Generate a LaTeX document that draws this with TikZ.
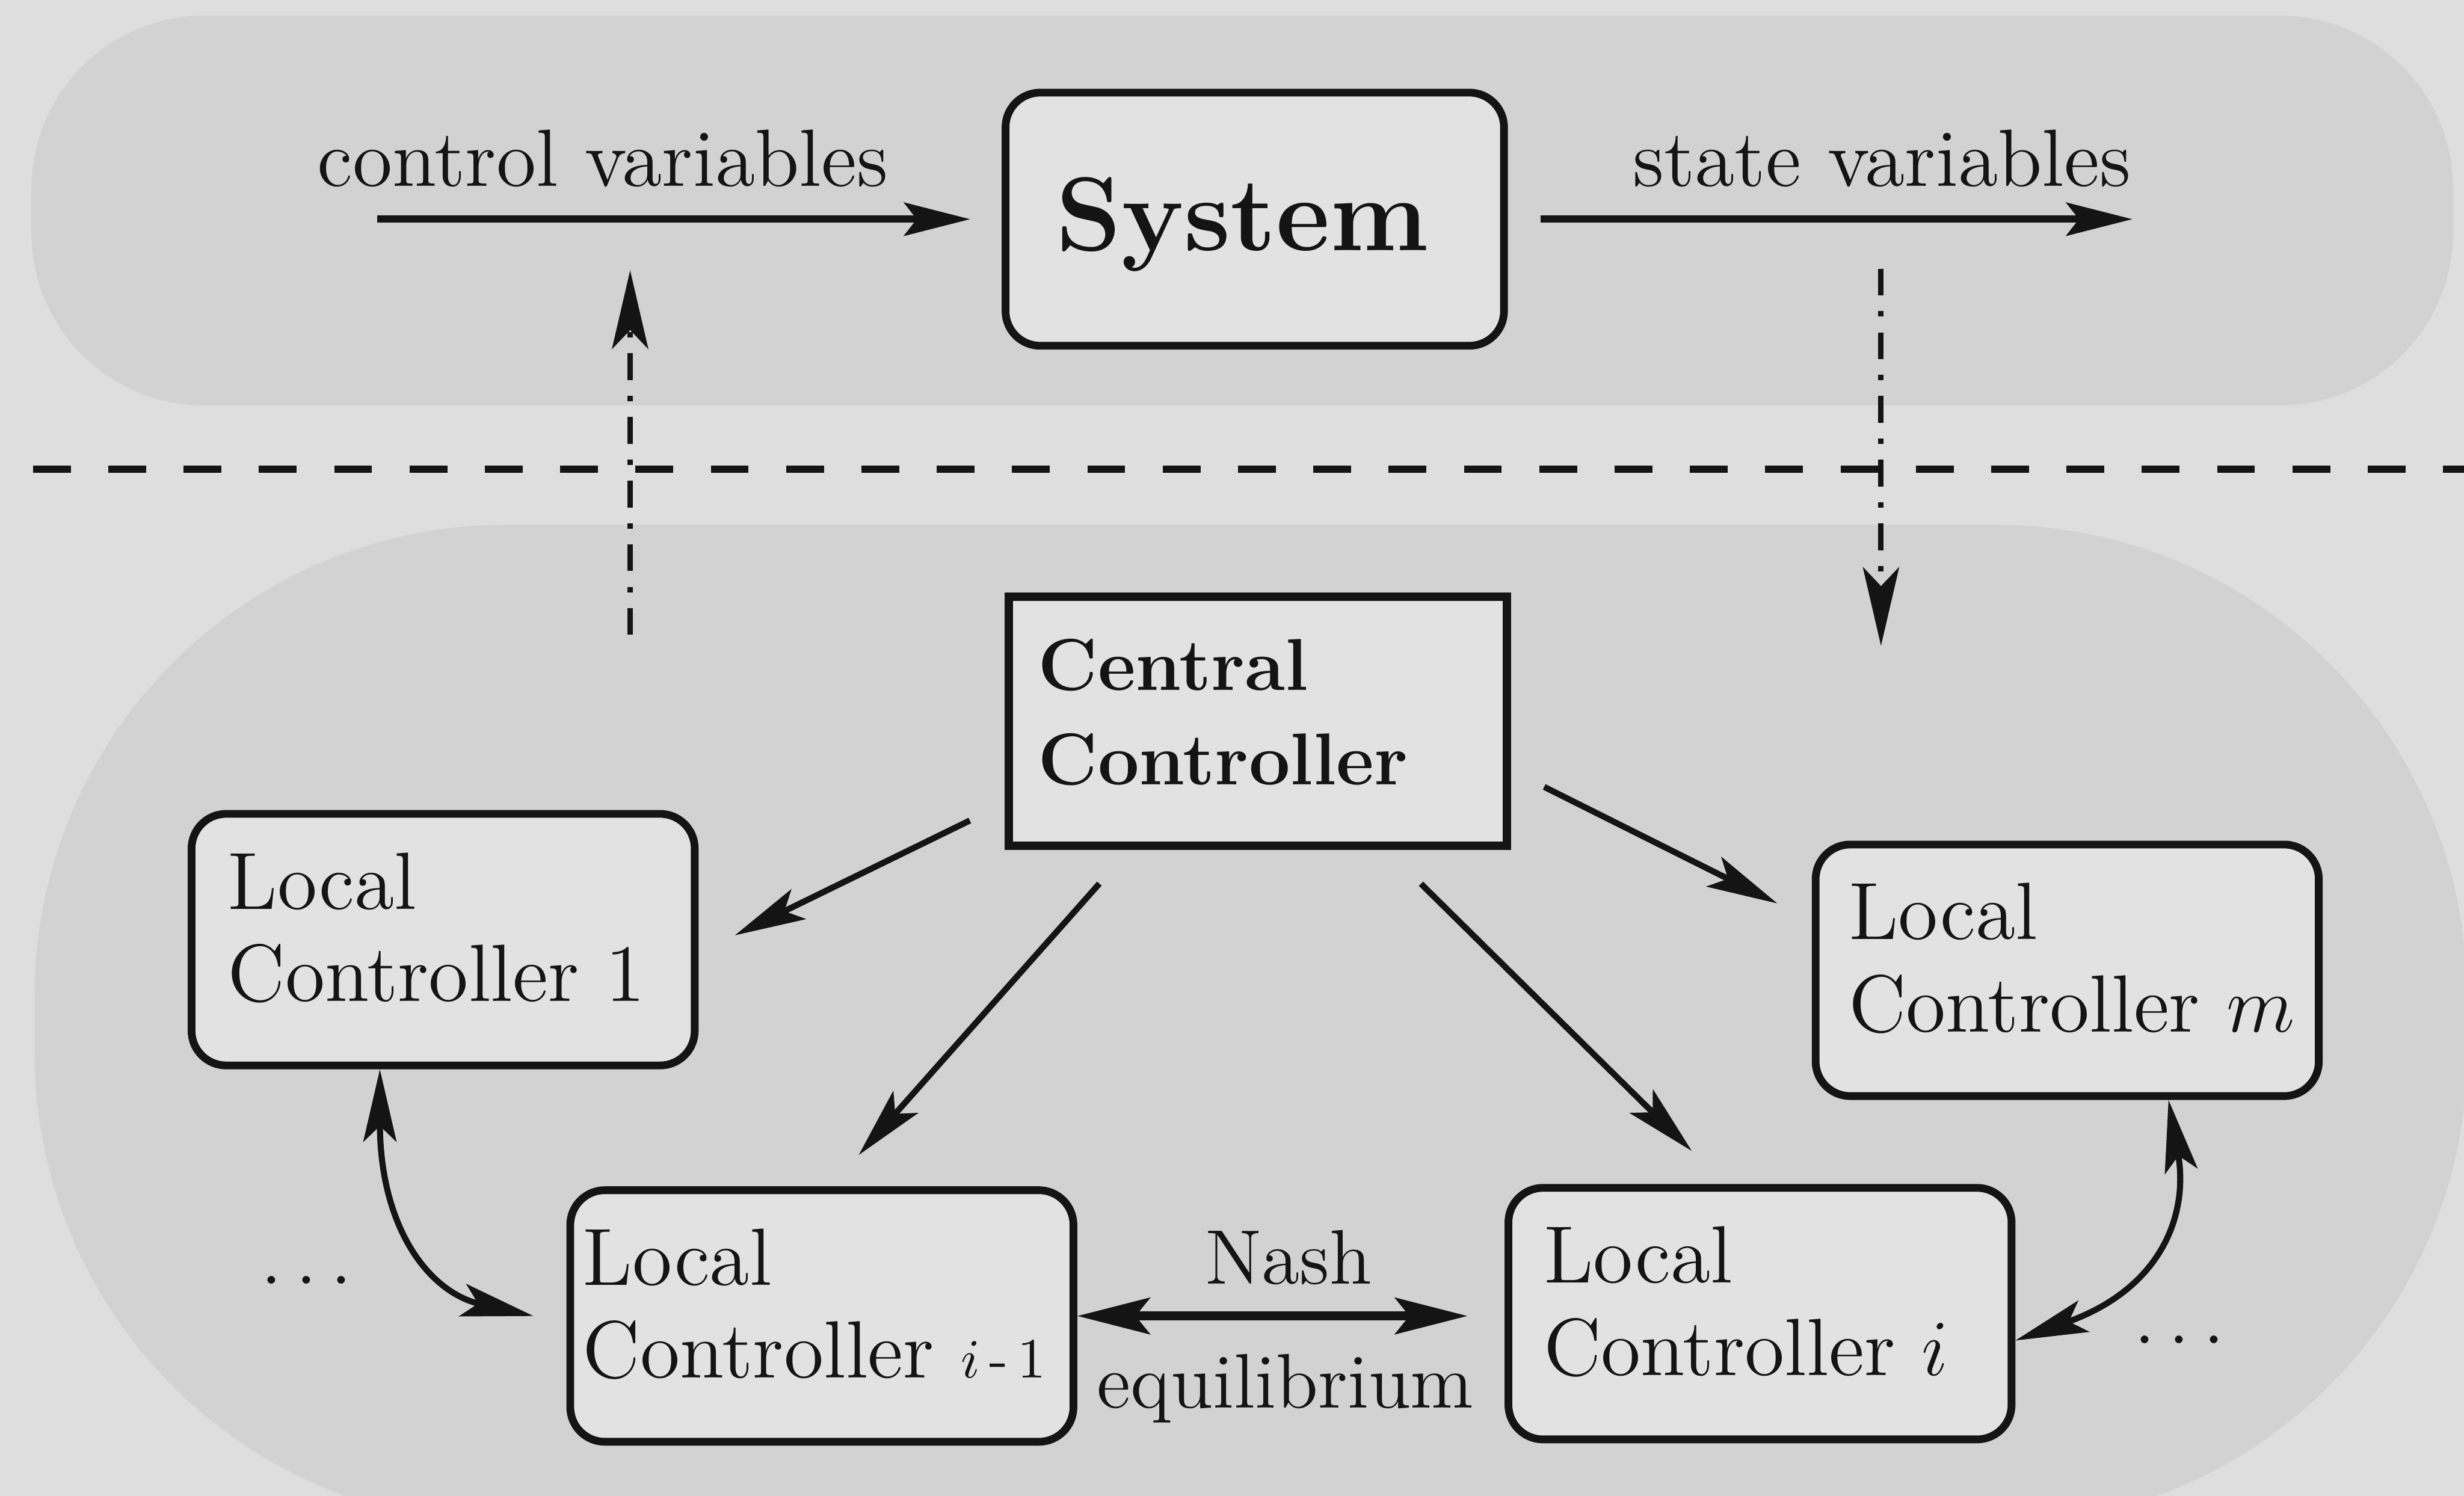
\documentclass[tikz,border=0pt]{standalone}
\usepackage{fontspec}
\usetikzlibrary{arrows.meta,calc}

\definecolor{paper}{gray}{0.87}
\definecolor{band}{gray}{0.825}
\definecolor{panel}{gray}{0.885}
\definecolor{ink}{gray}{0.08}

% #1 width, #2 height, #3 left inset, #4 space above first line, #5 lines
\newcommand\boxlines[5]{\parbox[c][#2][t]{#1}{\leftskip=#3\relax\vspace*{#4}#5}}

\tikzset{
  regular/.style={font=\fontsize{14}{16.7}\selectfont},
  lbl/.style={regular, text=ink, inner sep=0pt, anchor=base},
  toplbl/.style={text=ink, inner sep=0pt, anchor=base, font=\fontsize{14.7}{17}\selectfont},
  lcbox/.style={font=\fontsize{14.7}{16.7}\selectfont, text=ink, draw=ink,
    fill=panel, line width=1.4pt, rounded corners=0.22cm, inner sep=0pt},
  ccbox/.style={font=\fontsize{13.3}{17.1}\selectfont\bfseries, text=ink,
    draw=ink, fill=panel, line width=1.5pt, inner sep=0pt},
  sysbox/.style={font=\fontsize{19}{22}\selectfont\bfseries, text=ink,
    draw=ink, fill=panel, line width=1.4pt, rounded corners=0.22cm, inner sep=0pt},
  flow/.style={draw=ink, line width=1.3pt,
    -{Stealth[length=4.2mm,width=2.1mm,inset=0.8mm]}},
  ctrl/.style={draw=ink, line width=1.1pt,
    -{Stealth[length=4.5mm,width=2.1mm,inset=1mm]}},
  pair/.style={draw=ink, line width=1.1pt,
    {Stealth[length=4.6mm,width=2.1mm,inset=1mm]}-{Stealth[length=4.6mm,width=2.1mm,inset=1mm]}},
  nash/.style={draw=ink, line width=1.6pt,
    {Stealth[length=4.6mm,width=2.3mm,inset=0.9mm]}-{Stealth[length=4.6mm,width=2.3mm,inset=0.9mm]}},
  signal/.style={draw=ink, line width=1pt,
    dash pattern=on 1.7mm off 1mm on 0.35mm off 1mm,
    -{Stealth[length=5mm,width=2.3mm,inset=1.2mm]}},
  divider/.style={draw=ink, line width=1.3pt, dash pattern=on 2.4mm off 2.39mm},
}

\begin{document}
\begin{tikzpicture}[x=0.01cm, y=-0.01cm]
  \useasboundingbox (0,0) rectangle (1568,952);
  \clip (0,0) rectangle (1568,952);
  \fill[paper] (0,0) rectangle (1568,952);

  % shaded regions: plant (top) and control layer (bottom)
  \fill[band, rounded corners=1.1cm] (20,10) rectangle (1561,258);
  \fill[band, rounded corners=3cm] (22,334) rectangle (1570,970);

  % separation between plant and controllers
  \coordinate (divL) at (21,298.5);
  \coordinate (divR) at (1568,298.5);
  \draw[divider] (divL) -- (divR);

  % plant
  \node[sysbox] (sys) at (798.5,139.5)
    {\boxlines{3.17cm}{1.61cm}{0.32cm}{15.3pt}{System}};
  \coordinate (cvin) at (240,139.5);
  \coordinate (svout) at (1357,139.5);
  \draw[flow, shorten >=0.2cm] (cvin) -- (sys.west);
  \draw[flow, shorten <=0.21cm] (sys.east) -- (svout);
  \node[toplbl] (cvlabel) at (383.5,118.6) {control variables};
  \node[toplbl] (svlabel) at (1197.5,118.6) {state variables};

  % signals crossing the divider
  \coordinate (upfrom) at (401,404);
  \coordinate (upto) at (401,172);
  \coordinate (downfrom) at (1197,171);
  \coordinate (downto) at (1197,411);
  \draw[signal] (upfrom) -- (upto);
  \draw[signal] (downfrom) -- (downto);

  % controllers
  \node[ccbox] (cc) at (800.5,459)
    {\boxlines{3.17cm}{1.585cm}{0.187cm}{7.7pt}{Central\\Controller}};
  \node[lcbox] (lc1) at (282,598)
    {\boxlines{3.2cm}{1.6cm}{0.23cm}{7.0pt}{Local\\Controller 1}};
  \node[lcbox] (lcm) at (1315.5,617.5)
    {\boxlines{3.2cm}{1.6cm}{0.21cm}{7.0pt}{Local\\Controller $m$}};
  \node[lcbox] (lcim1) at (523,837.5)
    {\boxlines{3.2cm}{1.6cm}{0.08cm}{7.0pt}{Local\\Controller~{\fontsize{10.3}{10}\selectfont$i$\,-\,\oldstylenums{1}}}};
  \node[lcbox] (lci) at (1120,836)
    {\boxlines{3.2cm}{1.6cm}{0.225cm}{7.0pt}{Local\\Controller $i$}};

  % central controller to local controllers
  \draw[ctrl, shorten <=0.246cm, shorten >=0.257cm] (cc.-162.5) -- (lc1.-3.7);
  \draw[ctrl, shorten <=0.286cm, shorten >=0.266cm] (cc.-135.8) -- (lcim1.86.8);
  \draw[ctrl, shorten <=0.306cm, shorten >=0.299cm] (cc.-45.6) -- (lci.105.2);
  \draw[ctrl, shorten <=0.234cm, shorten >=0.245cm] (cc.-11) -- (lcm.169);

  % exchanges between neighbouring local controllers
  \draw[nash, shorten >=0.235cm] (lcim1.east) -- (lcim1.east -| lci.west);
  \node[lbl] (nashtop) at (820,817) {Nash};
  \node[lbl] (nashbot) at (818,896) {equilibrium};

  \draw[pair] (lc1.-116.6) .. controls +(0,100) and +(-67,-15) .. ([xshift=-0.21cm]lcim1.west);
  \draw[pair] (lcm.-52.3) .. controls +(13,73) and +(93,-33) .. (lci.-6.9);
  \node[lbl] (dotsl) at (195,817) {$\ldots$};
  \node[lbl] (dotsr) at (1387,855) {$\ldots$};
\end{tikzpicture}
\end{document}
